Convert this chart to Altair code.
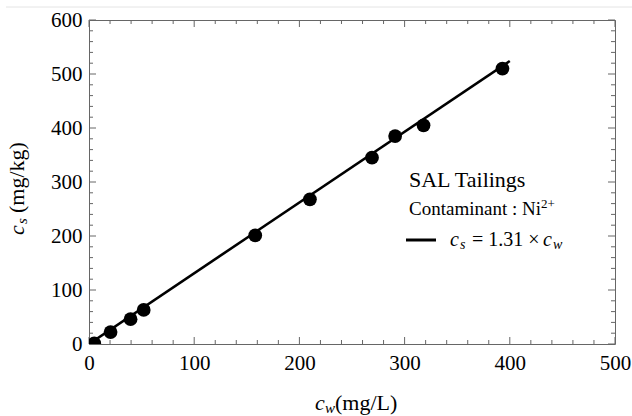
import altair as alt
import pandas as pd

# Measured sorption data for Ni2+ on SAL tailings
cw = [5, 20.5, 39.5, 52, 158, 210, 269, 291, 318, 393]
cs = [1, 22, 46, 63, 201, 268, 345, 385, 405, 510]

# Linear isotherm fit cs = K * cw
K = 1.31
fit_cw = [0, 400]
fit_cs = [K * v for v in fit_cw]

x_ticks = [0, 100, 200, 300, 400, 500]
y_ticks = [0, 100, 200, 300, 400, 500, 600]
x_minor = [v for v in range(0, 501, 20) if v % 100]
y_minor = [v for v in range(0, 601, 20) if v % 100]

W, H = 526, 324
L, T = 89, 20
SERIF = "Liberation Serif"
FRAME = "#666666"

xs = alt.Scale(domain=[0, 500], nice=False, zero=False)
ys = alt.Scale(domain=[0, 600], nice=False, zero=False)

pts = pd.DataFrame({"cw": cw, "cs": cs})
fit = pd.DataFrame({"cw": fit_cw, "cs": fit_cs})

x_axis = alt.Axis(values=x_ticks, title=None, ticks=False, tickSize=0, domain=False,
                  grid=False, labelFont=SERIF, labelFontSize=21, labelColor="black",
                  labelPadding=8, labelFlush=False)
y_axis = alt.Axis(values=y_ticks, title=None, ticks=False, tickSize=0, domain=False,
                  grid=False, labelFont=SERIF, labelFontSize=21, labelColor="black",
                  labelPadding=7, labelFlush=False)

line = alt.Chart(fit).mark_line(color="black", strokeWidth=2.6, clip=True).encode(
    x=alt.X("cw:Q", scale=xs, axis=x_axis),
    y=alt.Y("cs:Q", scale=ys, axis=y_axis),
)
# markers are clipped to the frame, like the plot area of the original figure
dots = alt.Chart(pts).mark_circle(color="black", opacity=1, size=190, clip=True).encode(
    x=alt.X("cw:Q", scale=xs),
    y=alt.Y("cs:Q", scale=ys),
)


def xticks(vals, length):
    df = pd.DataFrame({"v": vals})
    bottom = alt.Chart(df).mark_rule(color=FRAME, strokeWidth=1).encode(
        x=alt.X("v:Q", scale=xs), y=alt.value(H), y2=alt.value(H - length))
    top = alt.Chart(df).mark_rule(color=FRAME, strokeWidth=1).encode(
        x=alt.X("v:Q", scale=xs), y=alt.value(0), y2=alt.value(length))
    return [bottom, top]


def yticks(vals, length):
    df = pd.DataFrame({"v": vals})
    left = alt.Chart(df).mark_rule(color=FRAME, strokeWidth=1).encode(
        y=alt.Y("v:Q", scale=ys), x=alt.value(0), x2=alt.value(length))
    right = alt.Chart(df).mark_rule(color=FRAME, strokeWidth=1).encode(
        y=alt.Y("v:Q", scale=ys), x=alt.value(W), x2=alt.value(W - length))
    return [left, right]


def label(s, x, y, size, italic=False, angle=0, baseline="alphabetic"):
    kw = dict(font=SERIF, fontSize=size, color="black", align="left",
              baseline=baseline, angle=angle)
    if italic:
        kw["fontStyle"] = "italic"
    return alt.Chart(pd.DataFrame({"t": [s]})).mark_text(**kw).encode(
        x=alt.value(x - L), y=alt.value(y - T), text="t:N")


tick_layers = (xticks(x_ticks, 7) + xticks(x_minor, 4)
               + yticks(y_ticks, 7) + yticks(y_minor, 4))

# Thin light rule across the top of the figure
top_rule = alt.Chart(pd.DataFrame({"a": [0]})).mark_rule(color="#e4e4e4", strokeWidth=1).encode(
    x=alt.value(6 - L), x2=alt.value(632 - L), y=alt.value(7 - T))

texts = [
    # x-axis title
    label("c", 315, 410, 22, italic=True),
    label("w", 325, 413, 15, italic=True),
    label("(mg/L)", 335, 410, 22),
    # y-axis title (rotated)
    label("c", 24, 235, 22, italic=True, angle=270),
    label("s", 27, 224, 15, italic=True, angle=270),
    label("(mg/kg)", 24, 213, 22, angle=270),
    # in-plot legend
    label("SAL Tailings", 409, 187, 22),
    label("Contaminant : Ni", 409, 215, 19),
    label("2+", 541, 208, 13),
    label("c", 450, 246, 20, italic=True),
    label("s", 460, 249, 14, italic=True),
    label("= 1.31 \u00d7", 472, 246, 20),
    label("c", 543, 246, 20, italic=True),
    label("w", 553, 249, 14, italic=True),
]

legend_line = alt.Chart(pd.DataFrame({"a": [0]})).mark_rule(color="black", strokeWidth=3).encode(
    x=alt.value(406 - L), x2=alt.value(436 - L), y=alt.value(240 - T))

chart = alt.layer(
    top_rule, *tick_layers, line, dots, legend_line, *texts
).properties(
    width=W, height=H,
    autosize=alt.AutoSizeParams(type="none"),
    padding={"left": L, "top": T, "right": 632 - L - W, "bottom": 416 - T - H},
    background="white",
).configure_view(stroke=FRAME, strokeWidth=1)

chart.save("out.html", embed_options={"renderer": "svg", "actions": False})
